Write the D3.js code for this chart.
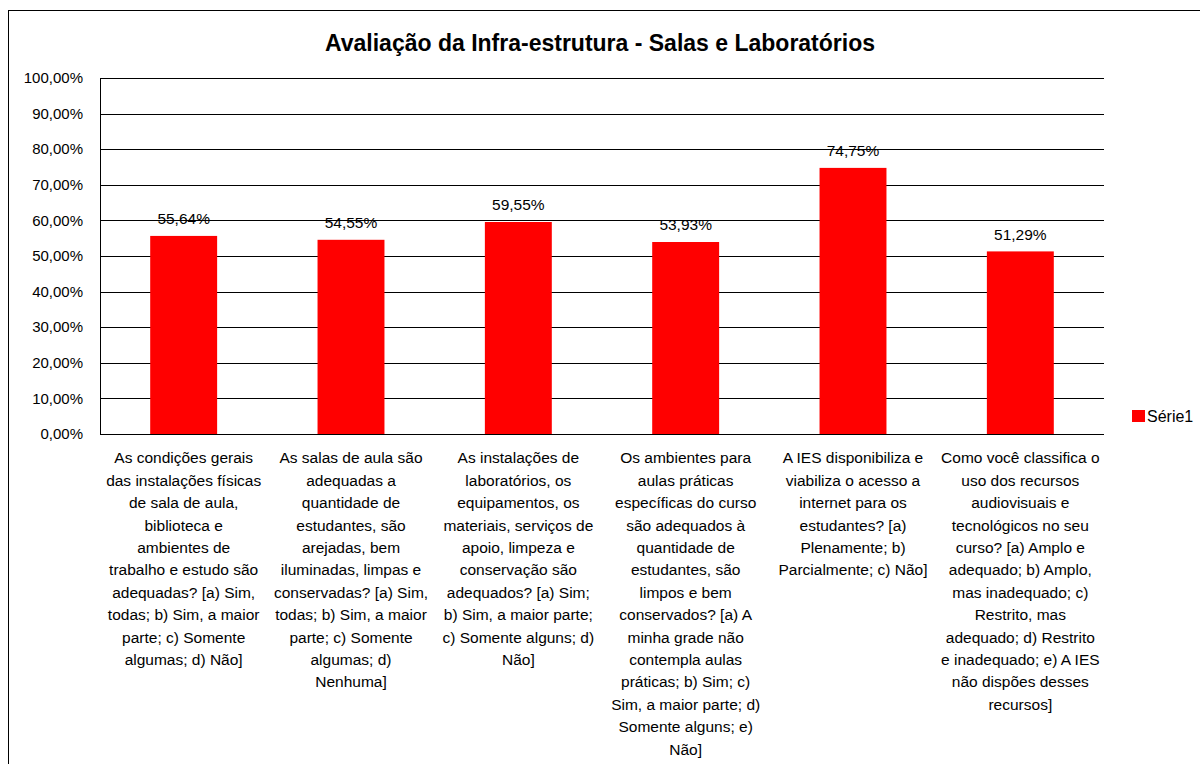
<!DOCTYPE html>
<html>
<head>
<meta charset="utf-8">
<script src="https://cdn.jsdelivr.net/npm/d3@7"></script>
<style>
  body { margin: 0; background: #fff; }
  text { font-family: "Liberation Sans", Arial, sans-serif; fill: #000; }
</style>
</head>
<body>
<svg id="chart" width="1200" height="764"></svg>
<script>
// Dados do gráfico
const series = "Série1";
const values = [0.5564, 0.5455, 0.5955, 0.5393, 0.7475, 0.5129];
const categories = [
  ["As condições gerais", "das instalações físicas", "de sala de aula,", "biblioteca e", "ambientes de", "trabalho e estudo são", "adequadas? [a) Sim,", "todas; b) Sim, a maior", "parte; c) Somente", "algumas; d) Não]"],
  ["As salas de aula são", "adequadas a", "quantidade de", "estudantes, são", "arejadas, bem", "iluminadas, limpas e", "conservadas? [a) Sim,", "todas; b) Sim, a maior", "parte; c) Somente", "algumas; d)", "Nenhuma]"],
  ["As instalações de", "laboratórios, os", "equipamentos, os", "materiais, serviços de", "apoio, limpeza e", "conservação são", "adequados? [a) Sim;", "b) Sim, a maior parte;", "c) Somente alguns; d)", "Não]"],
  ["Os ambientes para", "aulas práticas", "específicas do curso", "são adequados à", "quantidade de", "estudantes, são", "limpos e bem", "conservados? [a) A", "minha grade não", "contempla aulas", "práticas; b) Sim; c)", "Sim, a maior parte; d)", "Somente alguns; e)", "Não]"],
  ["A IES disponibiliza e", "viabiliza o acesso a", "internet para os", "estudantes? [a)", "Plenamente; b)", "Parcialmente; c) Não]"],
  ["Como você classifica o", "uso dos recursos", "audiovisuais e", "tecnológicos no seu", "curso? [a) Amplo e", "adequado; b) Amplo,", "mas inadequado; c)", "Restrito, mas", "adequado; d) Restrito", "e inadequado; e) A IES", "não dispões desses", "recursos]"]
];
const yTicks = [0, 0.1, 0.2, 0.3, 0.4, 0.5, 0.6, 0.7, 0.8, 0.9, 1.0];
const title = "Avaliação da Infra-estrutura - Salas e Laboratórios";

// Formato brasileiro: 55,64%
const fmt = v => (v * 100).toFixed(2).replace(".", ",") + "%";

const svg = d3.select("#chart");

// Moldura externa do gráfico
svg.append("rect")
  .attr("x", 8.5).attr("y", 10.5)
  .attr("width", 1200).attr("height", 800)
  .attr("fill", "none").attr("stroke", "#000").attr("stroke-width", 1);

const plot = { left: 100, right: 1104, top: 78, bottom: 434 };

const x = d3.scaleBand()
  .domain(d3.range(values.length))
  .range([plot.left, plot.right])
  .paddingInner(0.6)
  .paddingOuter(0.3);

const y = d3.scaleLinear()
  .domain([0, 1])
  .range([plot.bottom, plot.top]);

// Linhas de grade
svg.append("g")
  .selectAll("line")
  .data(yTicks)
  .join("line")
  .attr("x1", plot.left).attr("x2", plot.right)
  .attr("y1", d => Math.round(y(d)) + 0.5)
  .attr("y2", d => Math.round(y(d)) + 0.5)
  .attr("stroke", "#000").attr("stroke-width", 1);

// Eixo vertical
svg.append("line")
  .attr("x1", plot.left + 0.5).attr("x2", plot.left + 0.5)
  .attr("y1", plot.top).attr("y2", plot.bottom + 0.5)
  .attr("stroke", "#000");

// Rótulos do eixo Y
svg.append("g")
  .selectAll("text")
  .data(yTicks)
  .join("text")
  .attr("x", plot.left - 17)
  .attr("y", d => y(d))
  .attr("dy", "0.35em")
  .attr("text-anchor", "end")
  .style("font-size", "15px")
  .text(fmt);

// Barras
svg.append("g")
  .selectAll("rect")
  .data(values)
  .join("rect")
  .attr("x", (d, i) => x(i))
  .attr("y", d => y(d))
  .attr("width", x.bandwidth())
  .attr("height", d => y(0) - y(d))
  .attr("fill", "#ff0000");

// Rótulos de dados
svg.append("g")
  .selectAll("text")
  .data(values)
  .join("text")
  .attr("x", (d, i) => x(i) + x.bandwidth() / 2)
  .attr("y", d => y(d) - 17)
  .attr("dy", "0.35em")
  .attr("text-anchor", "middle")
  .style("font-size", "15.5px")
  .text(fmt);

// Rótulos das categorias (várias linhas)
const catG = svg.append("g")
  .selectAll("text")
  .data(categories)
  .join("text")
  .attr("text-anchor", "middle")
  .style("font-size", "15.5px");

catG.selectAll("tspan")
  .data((d, i) => d.map(line => ({ line, i })))
  .join("tspan")
  .attr("x", d => x(d.i) + x.bandwidth() / 2)
  .attr("y", (d, j) => 458 + j * 22.4)
  .attr("dy", "0.35em")
  .text(d => d.line);

// Título
svg.append("text")
  .attr("x", 600)
  .attr("y", 43)
  .attr("dy", "0.35em")
  .attr("text-anchor", "middle")
  .style("font-size", "23px")
  .style("font-weight", "bold")
  .text(title);

// Legenda
svg.append("rect")
  .attr("x", 1132).attr("y", 410)
  .attr("width", 13).attr("height", 12)
  .attr("fill", "#ff0000");

svg.append("text")
  .attr("x", 1147)
  .attr("y", 416)
  .attr("dy", "0.35em")
  .style("font-size", "16px")
  .text(series);
</script>
</body>
</html>
